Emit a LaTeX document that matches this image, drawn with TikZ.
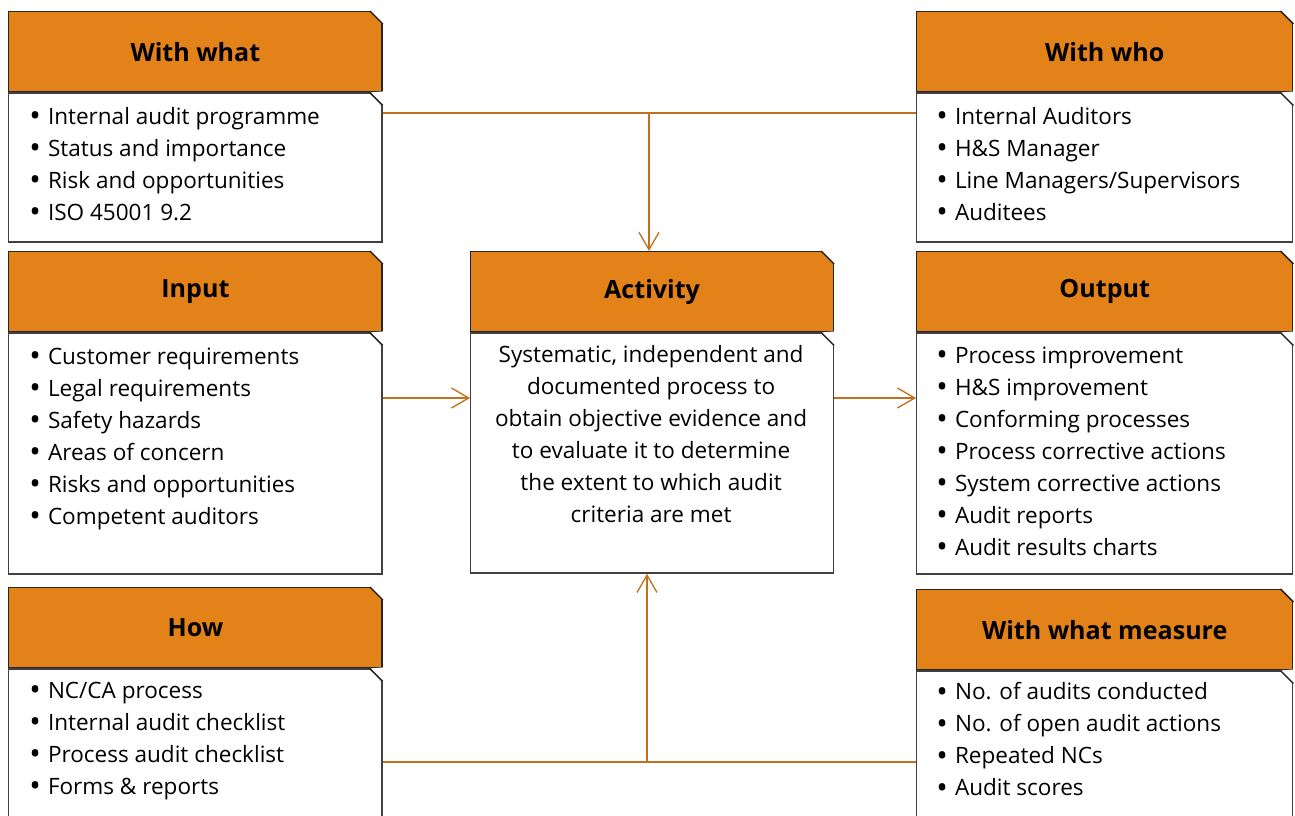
\documentclass[tikz,border=0pt]{standalone}
\usepackage{fontspec}
\setmainfont{Open Sans}
\usepackage{tikz}
\usetikzlibrary{positioning,arrows.meta}

\definecolor{hdrorange}{HTML}{E4821A}
\definecolor{linkorange}{HTML}{C0701E}
\newcommand{\bul}{\makebox[14pt][l]{\raisebox{-1.6pt}{\fontsize{23}{23}\selectfont•}}}

\begin{document}
\begin{tikzpicture}[x=0.75pt,y=-0.75pt,
  header/.style={draw=black!85,line width=1.1pt,fill=hdrorange,minimum height=60pt,
    inner sep=0pt,font=\fontsize{18.8}{22}\selectfont\bfseries},
  body/.style={draw=black!75,line width=1pt,inner sep=0pt},
  items/.style={anchor=north west,inner sep=0pt,align=left,font=\fontsize{16.9}{24}\selectfont},
  link/.style={draw=linkorange,line width=1pt},
  arr/.style={link,-{Straight Barb[length=13pt,width=15pt]}}]
\useasboundingbox (0,0) rectangle (1295,816);
\clip (0,0) rectangle (1295,816);

% headers
\node[header,minimum width=280pt,anchor=north west](hWhat) at (8,11) {With what};
\node[header,minimum width=282pt,anchor=north west](hWho) at (916,11) {With who};
\node[header,minimum width=280pt,anchor=north west](hInput) at (8,251) {Input};
\node[header,minimum width=272pt,anchor=north west](hAct) at (470,251) {Activity};
\node[header,minimum width=282pt,anchor=north west](hOut) at (916,251) {Output};
\node[header,minimum width=280pt,anchor=north west](hHow) at (8,587) {How};
\node[header,minimum width=282pt,anchor=north west](hMeas) at (916,589) {With what measure};

% bodies
\node[body,minimum width=280pt,minimum height=111.75pt,below=0pt of hWhat](bWhat) {};
\node[body,minimum width=282pt,minimum height=111.75pt,below=0pt of hWho](bWho) {};
\node[body,minimum width=280pt,minimum height=180.75pt,below=0pt of hInput](bInput) {};
\node[body,minimum width=272pt,minimum height=180pt,below=0pt of hAct](bAct) {};
\node[body,minimum width=282pt,minimum height=180.75pt,below=0pt of hOut](bOut) {};
\node[body,minimum width=280pt,minimum height=130pt,below=0pt of hHow](bHow) {};
\node[body,minimum width=282pt,minimum height=130pt,below=0pt of hMeas](bMeas) {};

% chamfered corners
\foreach \n in {hWhat,hWho,hInput,hAct,hOut,hHow,hMeas,bWhat,bWho,bInput,bAct,bOut,bHow,bMeas}{
  \fill[white] ([xshift=-9.75pt]\n.north east) -- ([xshift=0.8pt,yshift=0.8pt]\n.north east)
    -- ([yshift=-9.75pt]\n.north east) -- cycle;
  \draw[black!85,line width=1.1pt] ([xshift=-9.75pt]\n.north east) -- ([yshift=-9.75pt]\n.north east);
}

% lists
\node[items](lWhat) at ([shift={(21,15)}]bWhat.north west)
  {\bul Internal audit programme\\ \bul Status and importance\\
   \bul Risk and opportunities\\ \bul ISO 45001 9.2};
\node[items](lWho) at ([shift={(20,15)}]bWho.north west)
  {\bul Internal Auditors\\ \bul H\&S Manager\\
   \bul Line Managers/Supervisors\\ \bul Auditees};
\node[items](lInput) at ([shift={(21,15)}]bInput.north west)
  {\bul Customer requirements\\ \bul Legal requirements\\ \bul Safety hazards\\
   \bul Areas of concern\\ \bul Risks and opportunities\\ \bul Competent auditors};
\node[items,anchor=north,align=center](lAct) at ([shift={(-1,13)}]bAct.north)
  {Systematic, independent and\\ documented process to\\ obtain objective evidence and\\
   to evaluate it to determine\\ the extent to which audit\\ criteria are met};
\node[items](lOut) at ([shift={(20,14)}]bOut.north west)
  {\bul Process improvement\\ \bul H\&S improvement\\ \bul Conforming processes\\
   \bul Process corrective actions\\ \bul System corrective actions\\
   \bul Audit reports\\ \bul Audit results charts};
\node[items](lHow) at ([shift={(21,13)}]bHow.north west)
  {\bul NC/CA process\\ \bul Internal audit checklist\\
   \bul Process audit checklist\\ \bul Forms \& reports};
\node[items](lMeas) at ([shift={(20,12)}]bMeas.north west)
  {\bul No. of audits conducted\\ \bul No. of open audit actions\\
   \bul Repeated NCs\\ \bul Audit scores};

% connectors
\coordinate (top) at (649,113);
\coordinate (bot) at (647,762);
\draw[link] (bWhat.east |- top) -- (bWho.west |- top);
\draw[arr] (top) -- (top |- hAct.north);
\draw[link] (bHow.east |- bot) -- (bMeas.west |- bot);
\draw[arr] (bot) -- (bot |- bAct.south);
\draw[arr] (bInput.east |- 0,398) -- (bAct.west |- 0,398);
\draw[arr] (bAct.east |- 0,398) -- (bOut.west |- 0,398);
\end{tikzpicture}
\end{document}
